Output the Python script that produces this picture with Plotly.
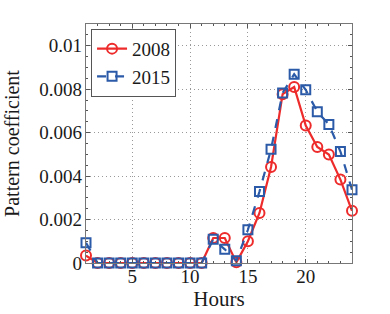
import plotly.graph_objects as go

hours = list(range(1, 25))
y2008 = [0.00034, 0, 0, 0, 0, 0, 0, 0, 0, 0, 0, 0.00115, 0.00115, 0.00003,
         0.0010, 0.0023, 0.00442, 0.00777, 0.0081, 0.00633, 0.00534, 0.00499,
         0.00384, 0.0024]
y2015 = [0.00093, 0, 0, 0, 0, 0, 0, 0, 0, 0, 0, 0.00109, 0.00063, 0.0001,
         0.00153, 0.00329, 0.00523, 0.00783, 0.00869, 0.00797, 0.00696, 0.00638,
         0.00513, 0.00337]
ytick_vals = [0, 0.002, 0.004, 0.006, 0.008, 0.01]
ytick_text = ["0", "0.002", "0.004", "0.006", "0.008", "0.01"]
xtick_vals = [5, 10, 15, 20]

red = "#ee2b2b"
blue = "#2b5aa8"
font = "Liberation Serif, Times New Roman, serif"

fig = go.Figure()
fig.add_trace(go.Scatter(
    x=hours, y=y2008, name="2008", mode="lines+markers",
    line=dict(color=red, width=2.2),
    marker=dict(symbol="circle-open", size=10, color=red, line=dict(width=2)),
    cliponaxis=False,
))
fig.add_trace(go.Scatter(
    x=hours, y=y2015, name="2015", mode="lines+markers",
    line=dict(color=blue, width=2.2, dash="dash"),
    marker=dict(symbol="square-open", size=9, color=blue, line=dict(width=2)),
    cliponaxis=False,
))

axis_common = dict(
    showline=True, linecolor="#777777", linewidth=1.2, mirror="ticks",
    ticks="inside", ticklen=4, tickcolor="#555555",
    showgrid=True, gridcolor="#999999", griddash="1px,3px", gridwidth=1,
    zeroline=False, automargin=False,
    tickfont=dict(family=font, size=19, color="#1a1a1a"),
)

fig.update_layout(
    width=390, height=314,
    margin=dict(l=86, r=38, t=24, b=51),
    paper_bgcolor="white", plot_bgcolor="white",
    font=dict(family=font, color="#1a1a1a"),
    xaxis=dict(range=[1, 24], tickvals=xtick_vals, ticklabelstandoff=-4,
               minor=dict(dtick=1, ticks="inside", ticklen=2, tickcolor="#555555", showgrid=False),
               title=dict(text="Hours", font=dict(family=font, size=21), standoff=0),
               **axis_common),
    yaxis=dict(range=[0, 0.011], tickvals=ytick_vals, ticktext=ytick_text, ticklabelstandoff=-1,
               minor=dict(dtick=0.0005, ticks="inside", ticklen=2, tickcolor="#555555", showgrid=False),
               title=dict(text="Pattern coefficient", font=dict(family=font, size=20), standoff=14),
               **axis_common),
    legend=dict(x=0.019, y=0.98, xanchor="left", yanchor="top",
                bordercolor="#555555", borderwidth=1, bgcolor="white",
                font=dict(family=font, size=19), tracegroupgap=0,
                itemwidth=30),
    showlegend=True,
)

fig.write_html("out.html", config={"displayModeBar": False},
               post_script="document.body.style.margin='0';document.body.style.overflow='hidden';")
